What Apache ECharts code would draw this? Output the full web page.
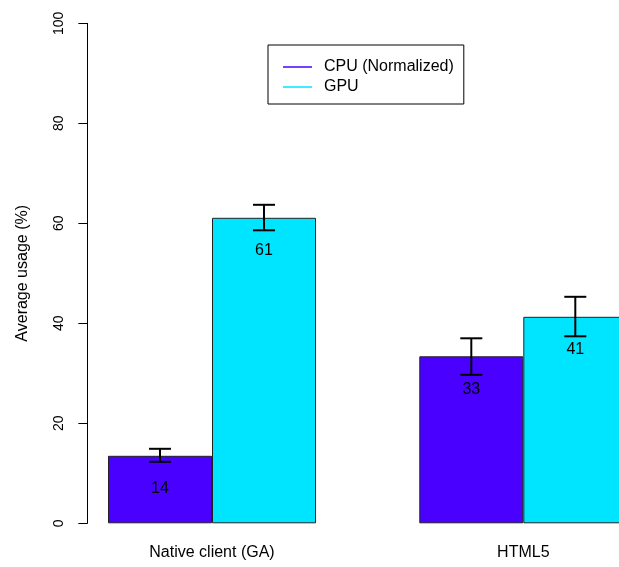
<!DOCTYPE html>
<html>
<head>
<meta charset="utf-8">
<script src="https://cdn.jsdelivr.net/npm/echarts@6/dist/echarts.min.js"></script>
<style>
  html, body { margin: 0; padding: 0; background: #fff; }
  #chart { width: 619px; height: 567px; }
</style>
</head>
<body>
<div id="chart"></div>
<script>
const categories = ['Native client (GA)', 'HTML5']
const seriesNames = ['CPU (Normalized)', 'GPU']
const cpuValues = [13.5, 33.4]
const gpuValues = [61.1, 41.3]
const cpuErrLow = [12.3, 29.7]
const cpuErrHigh = [14.9, 37.0]
const gpuErrLow = [58.6, 37.4]
const gpuErrHigh = [63.7, 45.3]
const yMin = 0
const yMax = 100
const yInterval = 20

const FONT = 'Liberation Sans, Arial, sans-serif'
const BAR_W = 104
const colors = ['#4900ff', '#00e5ff']

const errorBars = (low, high, shift) => ({
  type: 'custom',
  silent: true,
  z: 10,
  data: low.map((l, i) => [i, l, high[i]]),
  encode: { x: 0, y: [1, 2] },
  renderItem: (params, api) => {
    const i = api.value(0)
    const lo = api.coord([i, api.value(1)])
    const hi = api.coord([i, api.value(2)])
    const x = lo[0] + shift
    const cap = 11
    const style = { stroke: '#000', lineWidth: 2 }
    return {
      type: 'group',
      children: [
        { type: 'line', shape: { x1: x, y1: lo[1], x2: x, y2: hi[1] }, style },
        { type: 'line', shape: { x1: x - cap, y1: lo[1], x2: x + cap, y2: lo[1] }, style },
        { type: 'line', shape: { x1: x - cap, y1: hi[1], x2: x + cap, y2: hi[1] }, style }
      ]
    }
  }
})

const barLabel = {
  show: true,
  position: 'insideTop',
  distance: 25,
  color: '#000',
  fontFamily: FONT,
  fontSize: 16,
  formatter: p => Math.round(p.value)
}

const chart = echarts.init(document.getElementById('chart'))

chart.setOption({
  animation: false,
  textStyle: { fontFamily: FONT },
  grid: { left: 56.35, top: 23.3, bottom: 43.7, width: 622.6, outerBoundsMode: 'none' },
  legend: {
    data: seriesNames,
    orient: 'vertical',
    left: 268,
    top: 45,
    padding: [13, 10, 8, 15],
    borderColor: '#000',
    borderWidth: 1,
    itemGap: 2,
    itemWidth: 29,
    itemHeight: 1.5,
    icon: 'rect',
    itemStyle: { borderWidth: 0 },
    textStyle: { fontFamily: FONT, fontSize: 16, lineHeight: 18, color: '#000', padding: [0, 0, 0, 7] }
  },
  xAxis: {
    type: 'category',
    data: categories,
    axisLine: { show: false },
    axisTick: { show: false },
    axisLabel: { margin: 21, fontFamily: FONT, fontSize: 16, color: '#000' }
  },
  yAxis: {
    type: 'value',
    min: yMin,
    max: yMax,
    interval: yInterval,
    offset: -31,
    name: 'Average usage (%)',
    nameLocation: 'middle',
    nameGap: 57,
    nameTextStyle: { fontFamily: FONT, fontSize: 16, color: '#000' },
    splitLine: { show: false },
    axisLine: { show: true, lineStyle: { color: '#000', width: 1 } },
    axisTick: { show: true, length: 9, lineStyle: { color: '#000' } },
    axisLabel: { rotate: 90, margin: 21, fontFamily: FONT, fontSize: 14, color: '#000' }
  },
  series: [
    {
      name: seriesNames[0],
      type: 'bar',
      data: cpuValues,
      barWidth: BAR_W,
      barGap: '0%',
      itemStyle: { color: colors[0], borderColor: '#222', borderWidth: 1 },
      label: barLabel
    },
    {
      name: seriesNames[1],
      type: 'bar',
      data: gpuValues,
      barWidth: BAR_W,
      barGap: '0%',
      itemStyle: { color: colors[1], borderColor: '#222', borderWidth: 1 },
      label: barLabel
    },
    errorBars(cpuErrLow, cpuErrHigh, -BAR_W / 2),
    errorBars(gpuErrLow, gpuErrHigh, BAR_W / 2)
  ]
})
</script>
</body>
</html>
